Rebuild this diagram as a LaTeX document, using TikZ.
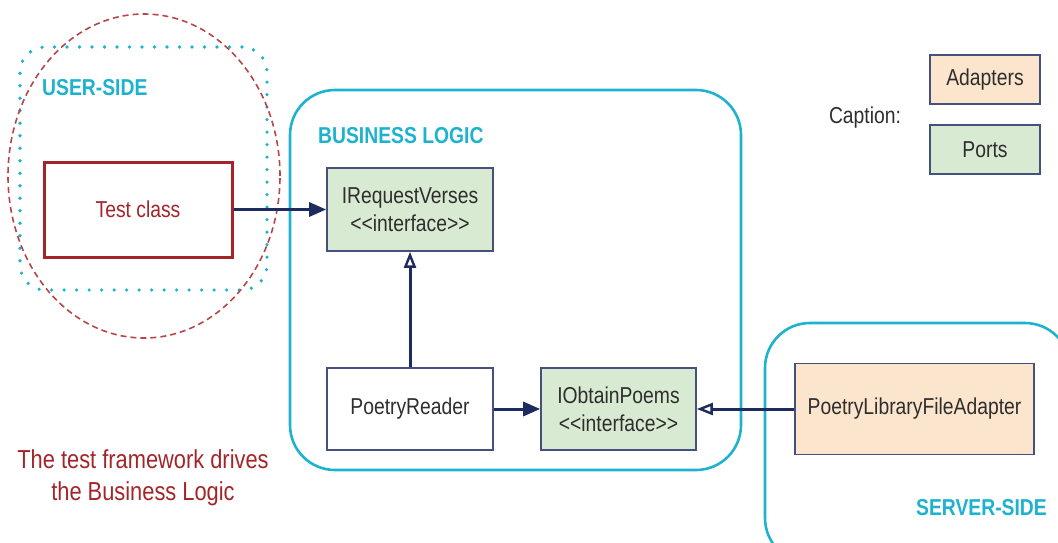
\documentclass[tikz,border=0pt]{standalone}
\usepackage{fontspec}
\setmainfont{Liberation Sans}[FakeStretch=0.84]
\usetikzlibrary{arrows.meta,shapes.geometric}
\definecolor{hexcyan}{HTML}{1DB3CF}
\definecolor{navy}{HTML}{1E2B5E}
\definecolor{boxline}{HTML}{46507E}
\definecolor{portfill}{HTML}{D9EAD3}
\definecolor{adaptfill}{HTML}{FCE5CD}
\definecolor{testred}{HTML}{A3252A}
\definecolor{ellred}{HTML}{B5474B}
\definecolor{txtgray}{HTML}{2E2E2E}
\newcommand{\stereo}[1]{<{}<#1>{}>}
\tikzset{
  x=1pt, y=-1pt,
  base/.style={font=\fontsize{23}{28}\selectfont, text=txtgray, align=center, inner sep=0pt},
  classbox/.style={base, draw=boxline, line width=1.6pt, fill=white},
  portbox/.style={classbox, fill=portfill},
  adaptbox/.style={classbox, fill=adaptfill},
  zone/.style={draw=hexcyan, line width=2.6pt, rounded corners=45pt, inner sep=0pt},
  zonelabel/.style={base, font=\fontsize{23}{28}\selectfont\bfseries, text=hexcyan},
  uses/.style={draw=navy, line width=3pt, -{Triangle[length=17pt,width=14pt]}},
  realizes/.style={draw=navy, line width=3pt, -{Triangle[open,length=16pt,width=12pt,line width=2.4pt]}},
}
\begin{document}
\begin{tikzpicture}
\useasboundingbox (0,0) rectangle (1058,542);
\clip (0,0) rectangle (1058,542);

% zones
\node[zone, minimum width=451pt, minimum height=380pt] (bl) at (515.5,280) {};
\node[zone, minimum width=305pt, minimum height=240pt] (ss) at (917.5,443) {};
\node[draw=hexcyan, line width=3.6pt, dash pattern=on 0pt off 12.5pt, line cap=round,
      rounded corners=25pt, minimum width=247pt, minimum height=243pt, inner sep=0pt] (us) at (143.5,168.5) {};
\node[ellipse, draw=ellred, line width=1.6pt, dash pattern=on 6pt off 4pt,
      minimum width=272pt, minimum height=324pt, inner sep=0pt] (drv) at (144,176) {};

% zone labels
\node[zonelabel, anchor=west] (uslbl) at (42,88) {USER-SIDE};
\node[zonelabel, anchor=west] (bllbl) at (318,136) {BUSINESS LOGIC};
\node[zonelabel, anchor=east] (sslbl) at (1047,508) {SERVER-SIDE};

% classes
\node[base, draw=testred, line width=3pt, text=testred, minimum width=188pt, minimum height=95pt] (tc) at (138,209.5) {Test class};
\node[portbox, minimum width=166pt, minimum height=83pt] (irv) at (410,209.5) {IRequestVerses\\\stereo{interface}};
\node[classbox, minimum width=166pt, minimum height=82pt] (pr) at (410,409) {PoetryReader};
\node[portbox, minimum width=155pt, minimum height=82pt] (iop) at (618.5,409) {IObtainPoems\\\stereo{interface}};
\node[adaptbox, minimum width=239pt, minimum height=91pt] (pfa) at (914.5,409) {PoetryLibraryFileAdapter};

% connectors
\draw[uses] (tc.east) -- (irv.west);
\draw[realizes] (pr.north) -- (irv.south);
\draw[uses] (pr.east) -- (iop.west);
\draw[realizes] (pfa.west) -- (iop.east);

% caption
\node[base] (cap) at (865,118) {Caption:};
\node[adaptbox, minimum width=110pt, minimum height=49pt] (capa) at (985,79.5) {Adapters};
\node[portbox, minimum width=110pt, minimum height=49pt] (capp) at (985,149.5) {Ports};

% note
\node[base, font=\fontsize{26}{32}\selectfont, text=testred] (note) at (143,478) {The test framework drives\\the Business Logic};
\end{tikzpicture}
\end{document}
